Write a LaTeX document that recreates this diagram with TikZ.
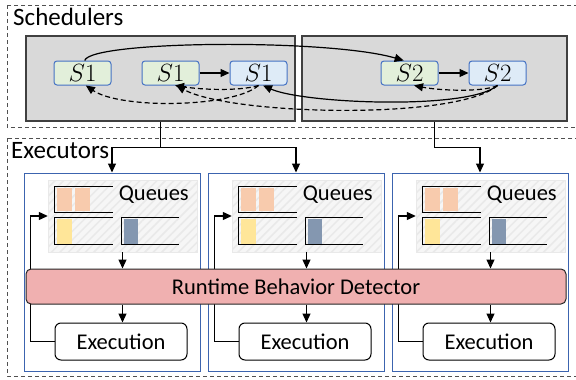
\documentclass[tikz,border=0pt]{standalone}
\usepackage{fontspec}
\setmainfont{Carlito}
\usetikzlibrary{arrows.meta,calc,patterns.meta}
\definecolor{schedgray}{RGB}{217,217,217}
\definecolor{schedline}{RGB}{64,64,64}
\definecolor{taskgreen}{RGB}{226,239,218}
\definecolor{taskblue}{RGB}{222,235,247}
\definecolor{taskline}{RGB}{68,114,196}
\definecolor{execline}{RGB}{60,100,175}
\definecolor{queuebg}{RGB}{246,246,246}
\definecolor{queuestripe}{RGB}{233,233,233}
\definecolor{cellorange}{RGB}{248,203,173}
\definecolor{cellyellow}{RGB}{255,230,153}
\definecolor{cellslate}{RGB}{132,151,176}
\definecolor{detectcolor}{RGB}{240,176,176}
\definecolor{framecolor}{RGB}{80,80,80}

\begin{document}
\begin{tikzpicture}[x=1pt, y=-1pt,
    outerframe/.style={draw=framecolor, line width=0.9pt, dash pattern=on 4pt off 3pt},
    heading/.style={anchor=base west, inner sep=0pt, font=\fontsize{25}{30}\selectfont},
    schedbox/.style={rectangle, draw=schedline, line width=1.2pt, fill=schedgray, minimum height=85pt},
    task/.style={rectangle, rounded corners=3pt, draw=taskline, line width=1pt, minimum width=57pt, minimum height=24pt, inner sep=0pt, font=\fontsize{24}{28}\selectfont},
    execbox/.style={rectangle, draw=execline, line width=1pt, minimum width=176pt, minimum height=198pt},
    queuearea/.style={rectangle, fill=queuebg, draw=queuestripe, minimum width=149pt, minimum height=72pt,
        postaction={pattern={Lines[angle=45, distance=6pt, line width=1.5pt]}, pattern color=queuestripe}},
    queueline/.style={draw=black, line width=1pt},
    txt/.style={inner sep=0pt, font=\fontsize{22.5}{27}\selectfont},
    execnode/.style={rectangle, rounded corners=6pt, draw=black, line width=1pt, fill=white, minimum width=132pt, minimum height=37pt, font=\fontsize{22.5}{27}\selectfont},
    detector/.style={rectangle, rounded corners=5pt, draw=black!85, line width=1pt, fill=detectcolor, minimum width=540pt, minimum height=35pt, font=\fontsize{22.5}{27}\selectfont},
    arrow/.style={-{Triangle[length=9pt, width=8pt]}, line width=1.2pt},
    dasharrow/.style={arrow, dash pattern=on 5pt off 3pt}]

    \useasboundingbox (0,0) rectangle (576,380);

    % Frames
    \draw[outerframe] (7,5) rectangle (580,127);
    \draw[outerframe] (7,138) rectangle (580,376);
    \node[heading] (schtitle) at (13,25) {Schedulers};
    \node[heading] (exetitle) at (11,158) {Executors};

    % Schedulers
    \node[schedbox, minimum width=269pt] (sch1) at (160.5,78.5) {};
    \node[schedbox, minimum width=265pt] (sch2) at (434.5,78.5) {};

    \node[task, fill=taskgreen] (s1a) at (82.5,73) {$S1$};
    \node[task, fill=taskgreen] (s1g) at (170.5,73) {$S1$};
    \node[task, fill=taskblue] (s1b) at (258.5,73) {$S1$};
    \node[task, fill=taskgreen] (s2g) at (409.5,73) {$S2$};
    \node[task, fill=taskblue] (s2b) at (497.5,73) {$S2$};

    \draw[arrow] (s1g) -- (s1b);
    \draw[arrow] (s2g) -- (s2b);
    \draw[arrow] (s1a.80) .. controls +(6,-20) and +(-75,-22) .. (s2g.115);
    \draw[arrow] (s2b.south) .. controls +(-30,25) and +(40,18) .. (s1b.290);

    % Feedback
    \draw[dasharrow] (s1b.south) .. controls +(-25,22) and +(35,24) .. (s1a.285);
    \draw[dasharrow] (s1b.south) .. controls +(-20,6) and +(25,4) .. (s1g.290);
    \draw[dasharrow] (s2b.south) .. controls +(-40,35) and +(55,30) .. (s1g.295);
    \draw[dasharrow] (s2b.south) .. controls +(-15,7) and +(25,5) .. (s2g.290);

    % Executors
    \foreach \bx [count=\i] in {24,208,392} {
        \node[execbox] (exe\i) at (\bx+88,272) {};
        \node[queuearea] (q\i) at (\bx+98.5,216) {};
        \begin{scope}[shift={(q\i.north west)}]
            \fill[cellorange] (9,8) rectangle (24,31);
            \fill[cellorange] (27,8) rectangle (42,31);
            \fill[cellyellow] (9,39) rectangle (24,64);
            \fill[cellslate] (76,39) rectangle (90,64);
            \draw[queueline] (65,7) -- (7,7) -- (7,33) -- (65,33);
            \draw[queueline] (65,38) -- (7,38) -- (7,65) -- (65,65);
            \draw[queueline] (131,38) -- (74,38) -- (74,65) -- (131,65);
            \node[txt] (ql\i) at (106,15) {Queues};
        \end{scope}
        \node[execnode] (ex\i) at (\bx+97,341.5) {Execution};
        \draw[arrow] (ex\i.west) -- ++(-24,0) |- (q\i.west);
    }

    % Dispatch
    \draw[arrow] (sch1.south) -- ++(0,26) -| (exe1.north);
    \draw[arrow] (sch1.south) -- ++(0,26) -| (exe2.north);
    \draw[arrow] (sch2.south) -- ++(0,26) -| (exe3.north);

    % Detector
    \node[detector] (rbd) at (296,286.5) {Runtime Behavior Detector};
    \foreach \i in {1,2,3} {
        \draw[arrow] (q\i.south) -- (q\i.south |- rbd.north);
        \draw[arrow] (q\i.south |- rbd.south) -- (q\i.south |- ex\i.north);
    }

\end{tikzpicture}
\end{document}
